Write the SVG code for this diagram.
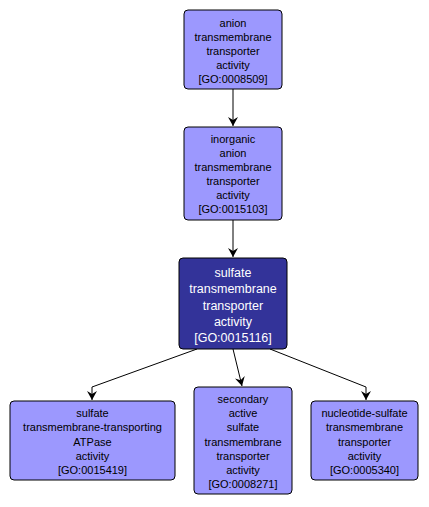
<svg xmlns="http://www.w3.org/2000/svg" width="429" height="507" viewBox="0 0 429 507">
<defs>
<style>
.n rect{fill:#9c98fe;stroke:#000;stroke-width:1}
.n text{font-family:"Liberation Sans",Arial,sans-serif;font-size:11px;fill:#000;text-anchor:middle}
.c rect{fill:#333399;stroke:#000;stroke-width:1}
.c text{font-family:"Liberation Sans",Arial,sans-serif;font-size:12.5px;fill:#fff;text-anchor:middle}
.e path{fill:none;stroke:#000;stroke-width:1;marker-end:url(#ah)}
</style>
<marker id="ah" markerWidth="10" markerHeight="10" refX="9" refY="5" orient="auto" markerUnits="userSpaceOnUse">
<path d="M0,0 L9,5 L0,10 L3,5 z" fill="#000"/>
</marker>
</defs>
<rect width="429" height="507" fill="#fff"/>
<g id="edges" class="e">
<path d="M233,89 L233,126"/>
<path d="M233,220 L233,257"/>
<path d="M197,349 L92,387 L92,400"/>
<path d="M233,349 L242,386"/>
<path d="M270,349 L366,387 L366,400"/>
</g>
<g id="GO0008509" class="n">
<rect x="184" y="10" width="98" height="79" rx="4"/>
<text x="233" y="27">anion</text>
<text x="233" y="41">transmembrane</text>
<text x="233" y="55">transporter</text>
<text x="233" y="69">activity</text>
<text x="233" y="83">[GO:0008509]</text>
</g>
<g id="GO0015103" class="n">
<rect x="184" y="127" width="98" height="93" rx="4"/>
<text x="233" y="143">inorganic</text>
<text x="233" y="157">anion</text>
<text x="233" y="171">transmembrane</text>
<text x="233" y="185">transporter</text>
<text x="233" y="199">activity</text>
<text x="233" y="213">[GO:0015103]</text>
</g>
<g id="GO0015116" class="c">
<rect x="179" y="258" width="108" height="91" rx="4"/>
<text x="233" y="277">sulfate</text>
<text x="233" y="293">transmembrane</text>
<text x="233" y="310">transporter</text>
<text x="233" y="326">activity</text>
<text x="233" y="342">[GO:0015116]</text>
</g>
<g id="GO0015419" class="n">
<rect x="10" y="401" width="165" height="79" rx="4"/>
<text x="92.5" y="417">sulfate</text>
<text x="92.5" y="431">transmembrane-transporting</text>
<text x="92.5" y="446">ATPase</text>
<text x="92.5" y="460">activity</text>
<text x="92.5" y="474">[GO:0015419]</text>
</g>
<g id="GO0008271" class="n">
<rect x="194" y="387" width="98" height="107" rx="4"/>
<text x="243" y="403">secondary</text>
<text x="243" y="417">active</text>
<text x="243" y="431">sulfate</text>
<text x="243" y="446">transmembrane</text>
<text x="243" y="460">transporter</text>
<text x="243" y="474">activity</text>
<text x="243" y="488">[GO:0008271]</text>
</g>
<g id="GO0005340" class="n">
<rect x="311" y="401" width="107" height="79" rx="4"/>
<text x="364.5" y="417">nucleotide-sulfate</text>
<text x="364.5" y="431">transmembrane</text>
<text x="364.5" y="446">transporter</text>
<text x="364.5" y="460">activity</text>
<text x="364.5" y="474">[GO:0005340]</text>
</g>
</svg>
